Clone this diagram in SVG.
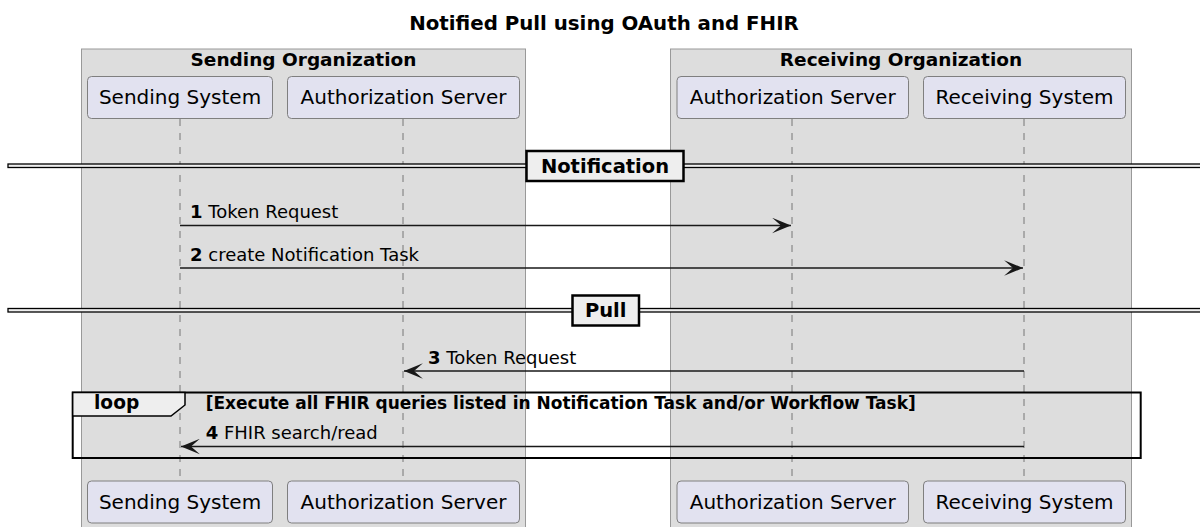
<svg xmlns="http://www.w3.org/2000/svg" width="1200" height="527" viewBox="0 0 1200 527">
<style>
text{font-family:"DejaVu Sans",sans-serif;fill:#000}
.title{font-size:19.8px;font-weight:bold}
.org{fill:#DDDDDD;stroke:#999;stroke-width:1}
.orgt{font-size:18.5px;font-weight:bold}
.part rect{fill:#E2E2F0;stroke:#7f7f7f;stroke-width:1}
.pt{font-size:20px}
.life{stroke:#777;stroke-width:1;stroke-dasharray:7,7}
.msg{stroke:#181818;stroke-width:1.4;fill:none;marker-end:url(#ah)}
.ml{font-size:18px}
.dline{fill:#EEEEEE;stroke:#000;stroke-width:1.3}
.dbox{fill:#EEEEEE;stroke:#000;stroke-width:2.5}
.divt{font-size:19.5px;font-weight:bold}
.loop{fill:none;stroke:#000;stroke-width:2}
.tab{fill:#EEEEEE;stroke:#000;stroke-width:1.5}
.loopt{font-size:18.6px;font-weight:bold}
.cond{font-size:17px;font-weight:bold}
</style>
<defs>
<marker id="ah" markerUnits="userSpaceOnUse" markerWidth="20" markerHeight="16" viewBox="0 0 18 14" refX="17" refY="7" orient="auto">
<path d="M0,0 L17,7 L0,14 L8,7 Z" fill="#181818"/>
</marker>
</defs>
<rect width="1200" height="527" fill="#FFFFFF"/>
<text class="title" x="604" y="30" text-anchor="middle">Notified Pull using OAuth and FHIR</text>

<g id="sending-organization">
<rect class="org" x="81.5" y="49" width="444" height="490"/>
<text class="orgt" x="303.5" y="65.5" text-anchor="middle">Sending Organization</text>
</g>
<g id="receiving-organization">
<rect class="org" x="670.5" y="49" width="461" height="490"/>
<text class="orgt" x="901" y="65.5" text-anchor="middle">Receiving Organization</text>
</g>

<g id="lifelines">
<line class="life" x1="180" y1="119" x2="180" y2="481"/>
<line class="life" x1="403" y1="119" x2="403" y2="481"/>
<line class="life" x1="792" y1="119" x2="792" y2="481"/>
<line class="life" x1="1024" y1="119" x2="1024" y2="481"/>
</g>

<g id="sending-system" class="part">
<rect x="87.5" y="76.5" width="185" height="42" rx="4"/>
<text class="pt" x="180" y="104" text-anchor="middle">Sending System</text>
<rect x="87.5" y="481" width="185" height="42" rx="4"/>
<text class="pt" x="180" y="509" text-anchor="middle">Sending System</text>
</g>
<g id="sending-auth-server" class="part">
<rect x="287.5" y="76.5" width="232" height="42" rx="4"/>
<text class="pt" x="403.5" y="104" text-anchor="middle">Authorization Server</text>
<rect x="287.5" y="481" width="232" height="42" rx="4"/>
<text class="pt" x="403.5" y="509" text-anchor="middle">Authorization Server</text>
</g>
<g id="receiving-auth-server" class="part">
<rect x="677" y="76.5" width="231.5" height="42" rx="4"/>
<text class="pt" x="792.7" y="104" text-anchor="middle">Authorization Server</text>
<rect x="677" y="481" width="231.5" height="42" rx="4"/>
<text class="pt" x="792.7" y="509" text-anchor="middle">Authorization Server</text>
</g>
<g id="receiving-system" class="part">
<rect x="923.5" y="76.5" width="202" height="42" rx="4"/>
<text class="pt" x="1024.5" y="104" text-anchor="middle">Receiving System</text>
<rect x="923.5" y="481" width="202" height="42" rx="4"/>
<text class="pt" x="1024.5" y="509" text-anchor="middle">Receiving System</text>
</g>

<g id="divider-notification">
<rect class="dline" x="8" y="164" width="1200" height="3.5"/>
<rect class="dbox" x="526.5" y="151" width="157" height="30"/>
<text class="divt" x="605" y="172.5" text-anchor="middle">Notification</text>
</g>
<g id="divider-pull">
<rect class="dline" x="8" y="308.5" width="1200" height="3.5"/>
<rect class="dbox" x="572.5" y="295.5" width="66.5" height="30"/>
<text class="divt" x="605.7" y="317" text-anchor="middle">Pull</text>
</g>

<g id="loop-frame">
<rect class="loop" x="72.7" y="392.5" width="1068" height="65.5"/>
<polygon class="tab" points="72.7,392.5 185,392.5 185,405 171,416 72.7,416"/>
<text class="loopt" x="94" y="409">loop</text>
<text class="cond" x="205.7" y="409">[Execute all FHIR queries listed in Notification Task and/or Workflow Task]</text>
</g>

<g id="connectors">
<line class="msg" x1="180" y1="225.5" x2="791" y2="225.5"/>
<text class="ml" x="190" y="218"><tspan font-weight="bold">1</tspan> Token Request</text>
<line class="msg" x1="180" y1="268" x2="1023" y2="268"/>
<text class="ml" x="190" y="260.5"><tspan font-weight="bold">2</tspan> create Notification Task</text>
<line class="msg" x1="1024" y1="371" x2="404" y2="371"/>
<text class="ml" x="428" y="363.5"><tspan font-weight="bold">3</tspan> Token Request</text>
<line class="msg" x1="1024" y1="446.5" x2="181" y2="446.5"/>
<text class="ml" x="205.7" y="439"><tspan font-weight="bold">4</tspan> FHIR search/read</text>
</g>
</svg>
